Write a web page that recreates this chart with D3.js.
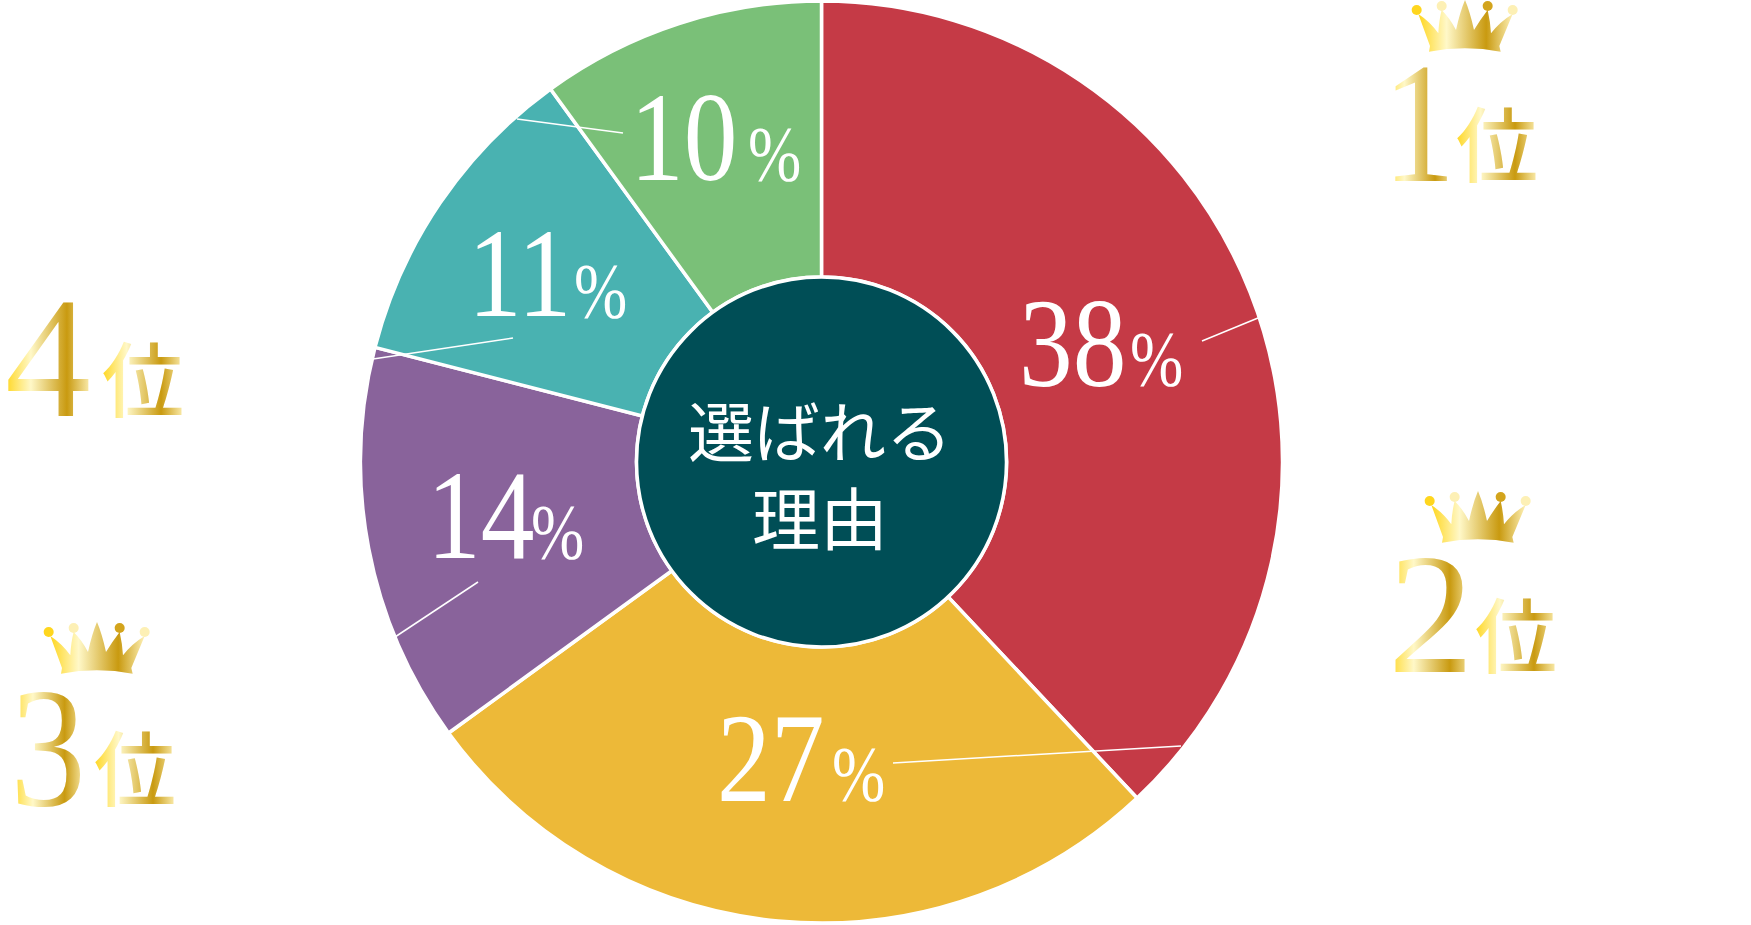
<!DOCTYPE html>
<html lang="ja">
<head>
<meta charset="utf-8">
<title>選ばれる理由</title>
<script src="https://cdn.jsdelivr.net/npm/d3@7"></script>
<style>
  html, body { margin: 0; padding: 0; background: #fff; overflow: hidden; }
  svg { display: block; }
  .pct { font-family: "Liberation Serif", serif; fill: #fff; }
  .rank { font-family: "Liberation Serif", serif; }
  .kanji { font-family: "Noto Sans CJK JP", sans-serif; }
</style>
</head>
<body>
<svg id="chart"></svg>
<script>
"use strict";

// Data
const reasons = ["38", "27", "14", "11", "10"];
const shares = [38, 27, 14, 11, 10];
const sliceColors = ["#c53a46", "#edb938", "#89639b", "#49b2b1", "#7ac078"];
const centerLines = ["選ばれる", "理由"];

// Label placement, same order as the slices
const labelX = [1019, 717, 427, 468, 630];
const labelY = [386, 801, 558, 316, 180];
const pctX = [1130, 832, 531, 574, 748];
const pctY = [385, 800, 558, 317, 180];
const leaders = [
  [[1202, 341], [1258, 318]],
  [[893, 763], [1181, 746]],
  [[478, 582], [395, 637]],
  [[513, 338], [373, 359]],
  [[623, 133], [517, 119]]
];

// Rank badges
const rankDigits = ["1", "2", "3", "4"];
const rankDigitX = [1419, 1431, 48, 48];
const rankDigitScale = [0.85, 1, 0.88, 1];
const rankBase = [181, 672, 805, 416];
const rankKanjiX = [1456, 1475, 94, 102];
const crownX = [1465, 1478, 97, null];
const crownTop = [0, 491, 622, null];

const W = 1751, H = 925;
const cx = 821.5, cy = 462;
const outerR = 461, innerR = 185;

const svg = d3.select("#chart").attr("width", W).attr("height", H);

// Gold gradient shared by crowns and rank text
const gold = svg.append("defs").append("linearGradient")
  .attr("id", "gold")
  .attr("x1", 0).attr("x2", 1).attr("y1", 0).attr("y2", 0);
[[0, "#ffd61e"], [0.3, "#fff8c8"], [0.72, "#c99a10"], [1, "#fdf0b5"]].forEach(s => {
  gold.append("stop").attr("offset", s[0]).attr("stop-color", s[1]);
});

// Donut
const pie = d3.pie().sort(null).value(d => d);
const arc = d3.arc().innerRadius(innerR).outerRadius(outerR);

const donut = svg.append("g").attr("transform", `translate(${cx},${cy})`);

donut.selectAll("path")
  .data(pie(shares))
  .enter()
  .append("path")
  .attr("d", arc)
  .attr("fill", (d, i) => sliceColors[i])
  .attr("stroke", "#fff")
  .attr("stroke-width", 3.5);

donut.append("circle")
  .attr("r", innerR)
  .attr("fill", "#004e56")
  .attr("stroke", "#fff")
  .attr("stroke-width", 3.5);

// Leader lines
svg.selectAll(".leader")
  .data(leaders)
  .enter()
  .append("path")
  .attr("class", "leader")
  .attr("d", d3.line())
  .attr("fill", "none")
  .attr("stroke", "#fff")
  .attr("stroke-width", 1.5);

// Percentage labels, squeezed sideways like the condensed originals
svg.selectAll(".num")
  .data(reasons)
  .enter()
  .append("text")
  .attr("class", "pct num")
  .attr("transform", (d, i) => `translate(${labelX[i]},${labelY[i]}) scale(0.84,1)`)
  .attr("font-size", 128)
  .text(d => d);

svg.selectAll(".sign")
  .data(reasons)
  .enter()
  .append("text")
  .attr("class", "pct sign")
  .attr("transform", (d, i) => `translate(${pctX[i]},${pctY[i]}) scale(0.82,1)`)
  .attr("font-size", 78)
  .text("%");

// Centre text, two lines in one element
const centerText = svg.append("text")
  .attr("class", "kanji")
  .attr("text-anchor", "middle")
  .attr("font-weight", 400)
  .attr("fill", "#fff");

centerText.append("tspan")
  .attr("x", 820).attr("y", 457)
  .attr("font-size", 66)
  .text(centerLines[0]);

centerText.append("tspan")
  .attr("x", 820).attr("y", 545)
  .attr("font-size", 68)
  .text(centerLines[1]);

// Rank digits and 位
svg.selectAll(".rank")
  .data(rankDigits)
  .enter()
  .append("text")
  .attr("class", "rank")
  .attr("transform", (d, i) => `translate(${rankDigitX[i]},${rankBase[i]}) scale(${rankDigitScale[i]},1)`)
  .attr("text-anchor", "middle")
  .attr("font-size", 172)
  .attr("fill", "url(#gold)")
  .text(d => d);

svg.selectAll(".rankKanji")
  .data(rankDigits)
  .enter()
  .append("text")
  .attr("class", "kanji rankKanji")
  .attr("x", (d, i) => rankKanjiX[i])
  .attr("y", (d, i) => rankBase[i] - 5)
  .attr("font-size", 82)
  .attr("font-weight", 500)
  .attr("fill", "url(#gold)")
  .text("位");

// Crowns, outline traced at 3x around the centre spike
const crownOutline = "M-108,155 L-105,138 L-140,42 Q-105,65 -80,100 Q-78,60 -70,30 Q-45,55 -27,90 Q-15,35 0,0 Q15,35 27,90 Q45,60 68,30 Q76,65 78,100 Q105,65 143,42 L103,138 L107,155 Q0,135 -108,155 Z";
const crownBalls = [[-145, 30], [-70, 18], [68, 18], [143, 30]];

crownX.forEach((x, i) => {
  if (x === null) return;
  const crown = svg.append("g")
    .attr("transform", `translate(${x},${crownTop[i]}) scale(${1 / 3})`);
  crown.append("path")
    .attr("d", crownOutline)
    .attr("fill", "url(#gold)");
  crown.selectAll("circle")
    .data(crownBalls)
    .enter()
    .append("circle")
    .attr("cx", d => d[0])
    .attr("cy", d => d[1])
    .attr("r", 15)
    .attr("fill", (d, j) => ["#ffd61e", "#fdf0b5", "#d3a41c", "#fdf0b5"][j]);
});
</script>
</body>
</html>
